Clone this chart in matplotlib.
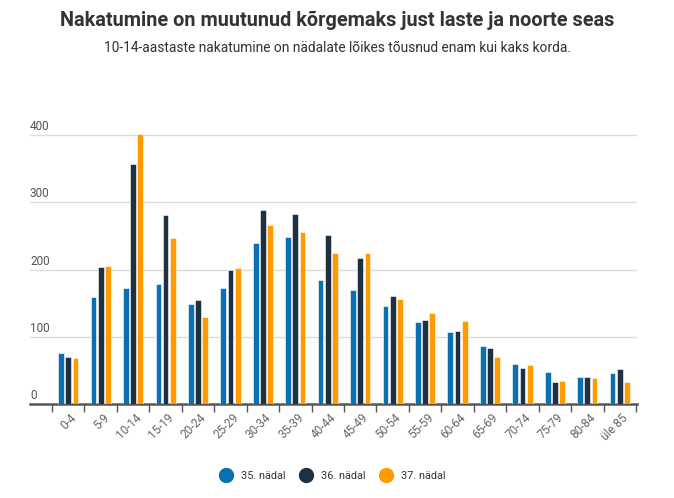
import matplotlib.pyplot as plt
import matplotlib.transforms as mtransforms
from matplotlib.lines import Line2D
import numpy as np

# data
groups = ['0-4', '5-9', '10-14', '15-19', '20-24', '25-29', '30-34', '35-39', '40-44',
          '45-49', '50-54', '55-59', '60-64', '65-69', '70-74', '75-79', '80-84', 'üle 85']
week35 = [76, 159, 173, 179, 148, 172, 239, 248, 184, 170, 146, 122, 107, 86, 59, 48, 40, 46]
week36 = [70, 204, 357, 281, 155, 200, 288, 282, 251, 217, 160, 125, 108, 83, 54, 33, 40, 52]
week37 = [69, 205, 401, 247, 130, 202, 266, 256, 224, 225, 156, 136, 124, 70, 58, 34, 39, 33]
series_names = ['35. nädal', '36. nädal', '37. nädal']
colors = ['#0a70b0', '#1e3142', '#ff9a00']
yticks = [0, 100, 200, 300, 400]

plt.rcParams['font.family'] = ['Roboto', 'DejaVu Sans']

fig = plt.figure(figsize=(6.74, 4.98), dpi=100)
ax = fig.add_axes([0.0445, 0.1888, 0.9005, 0.567])

x = np.arange(len(groups))
step = 0.222
width = 0.178
for i, (vals, col) in enumerate(zip([week35, week36, week37], colors)):
    ax.bar(x + (i - 1) * step, vals, width, color=col, edgecolor='#ffffff',
           linewidth=0.4, zorder=3)

ax.set_xlim(-1.18, 17.53)
ax.set_ylim(0, 420)

# gridlines + labels sitting above lines
for t in yticks[1:]:
    ax.axhline(t, color='#dcdcdc', lw=1, zorder=1)
trans = mtransforms.blended_transform_factory(ax.transAxes, ax.transData)
for t in yticks:
    ax.text(0.0, t + 3, str(t), transform=trans, ha='left', va='bottom',
            fontsize=8.5, color='#555555')

ax.set_yticks([])
for s in ['left', 'right', 'top']:
    ax.spines[s].set_visible(False)
ax.spines['bottom'].set_color('#555555')
ax.spines['bottom'].set_linewidth(1.8)

# category boundary ticks
ax.set_xticks(np.arange(-0.5, len(groups), 1.0))
ax.set_xticklabels([])
ax.tick_params(axis='x', length=6, width=1, color='#555555')
for xi, lab in zip(x, groups):
    ax.text(xi + 0.05, -11, lab, rotation=45, ha='right', va='top',
            rotation_mode='anchor', fontsize=8.5, color='#666666')

title = fig.text(0.5, 0.958, 'Nakatumine on muutunud kõrgemaks just laste ja noorte seas',
                 ha='center', va='center', fontsize=16, fontweight='bold', color='#333333')
sub = fig.text(0.5, 0.903, '10-14-aastaste nakatumine on nädalate lõikes tõusnud enam kui kaks korda.',
               ha='center', va='center', fontsize=12, color='#333333')

# no condensed font installed: shrink to the width the reference uses
renderer = fig.canvas.get_renderer()
for txt, target in [(title, 553), (sub, 467)]:
    w = txt.get_window_extent(renderer).width
    txt.set_fontsize(txt.get_fontsize() * target / w)

handles = [Line2D([], [], marker='o', ls='', markersize=10, color=c) for c in colors]
fig.legend(handles, series_names, loc='center', bbox_to_anchor=(0.49, 0.044), ncol=3,
           frameon=False, fontsize=7.8, handletextpad=0.4, columnspacing=0.9,
           labelcolor='#333333')

fig.savefig('out.png', dpi=100)
